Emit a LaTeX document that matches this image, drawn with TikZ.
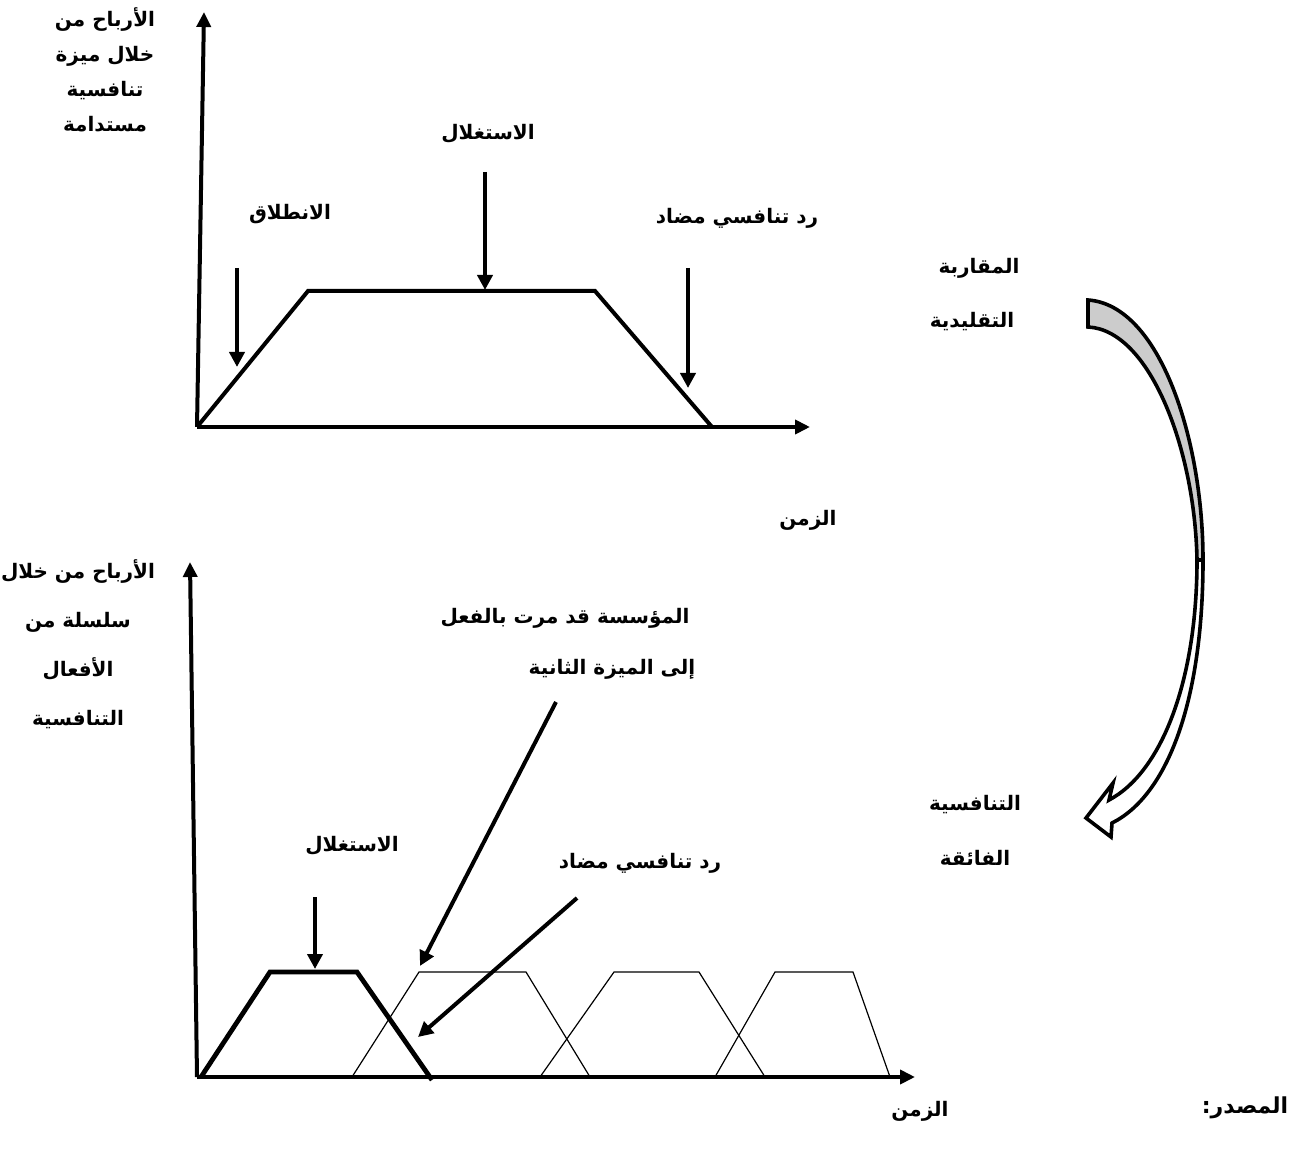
\documentclass[tikz,border=0pt]{standalone}
\usepackage{fontspec}
\usetikzlibrary{arrows.meta}
\TeXXeTstate=1
\newfontfamily\arabicfont[Script=Arabic]{DejaVu Sans}
\newcommand{\AR}[1]{{\arabicfont\bfseries\beginR #1\endR}}
\tikzset{
  axisarrow/.style={line width=2pt, -{Triangle[length=7.5pt,width=7pt]}},
  boldline/.style={line width=2pt, line join=miter},
  thinline/.style={line width=0.6pt},
  pointer/.style={line width=2pt, -{Triangle[length=7.5pt,width=7.5pt]}},
  lbl/.style={font=\fontsize{10}{12}\selectfont, inner sep=0pt, align=center},
}
\begin{document}
\begin{tikzpicture}[x=0.5pt,y=-0.5pt]
\useasboundingbox (0,0) rectangle (1289,1149);
% ---------- top chart ----------
\coordinate (O1) at (197,427);
\coordinate (Y1) at (204,12);
\coordinate (X1) at (810,427);
\coordinate (t1) at (308,291);
\coordinate (t2) at (595,291);
\coordinate (t3) at (712,427);
\draw[axisarrow] (O1) -- (Y1);
\draw[axisarrow] (O1) -- (X1);
\draw[boldline] (O1) -- (t1) -- (t2) -- (t3);
\coordinate (p1s) at (237,268); \coordinate (p1e) at (237,367);
\coordinate (p2s) at (485,172); \coordinate (p2e) at (485,290);
\coordinate (p3s) at (688,268); \coordinate (p3e) at (688,388);
\draw[pointer] (p1s) -- (p1e);
\draw[pointer] (p2s) -- (p2e);
\draw[pointer] (p3s) -- (p3e);
\node[lbl, font=\fontsize{10}{17.5}\selectfont] (ylab1) at (105,70) {\AR{الأرباح من}\\\AR{خلال ميزة}\\\AR{تنافسية}\\\AR{مستدامة}};
\node[lbl] (l1) at (290,214) {\AR{الانطلاق}};
\node[lbl] (l2) at (488,134) {\AR{الاستغلال}};
\node[lbl] (l3) at (737,218) {\AR{رد تنافسي مضاد}};
\node[lbl] (time1) at (808,520) {\AR{الزمن}};
% ---------- right side ----------
\node[lbl] (r1) at (979,268) {\AR{المقاربة}};
\node[lbl] (r2) at (972,322) {\AR{التقليدية}};
\node[lbl] (r3) at (975,805) {\AR{التنافسية}};
\node[lbl] (r4) at (975,858) {\AR{الفائقة}};
% curved arrow
\coordinate (ca1) at (1088,300);
\coordinate (ca2) at (1088,327);
\coordinate (cm1) at (1203,560);
\coordinate (cm2) at (1197,560);
\coordinate (n1) at (1109,800);
\coordinate (n2) at (1112,823);
\coordinate (b1) at (1113,783);
\coordinate (b2) at (1111,837);
\coordinate (tip) at (1086,818);
\draw[line width=1.8pt, line join=miter, fill=white]
  (cm2) .. controls (1197,680) and (1162,772) .. (n1) -- (b1) -- (tip) -- (b2) -- (n2)
  .. controls (1168,795) and (1203,700) .. (cm1) -- cycle;
\draw[line width=1.8pt, line join=miter, fill=black!20]
  (ca1) .. controls (1160,305) and (1203,440) .. (cm1) -- (cm2)
  .. controls (1195,450) and (1150,330) .. (ca2) -- cycle;
% ---------- bottom chart ----------
\coordinate (O2) at (197,1077);
\coordinate (Y2) at (190,562);
\coordinate (X2) at (915,1077);
\draw[axisarrow] (O2) -- (Y2);
\draw[axisarrow] (O2) -- (X2);
\coordinate (a0) at (201,1077); \coordinate (a1) at (270,972);
\coordinate (a2) at (357,972); \coordinate (a3) at (432,1080);
\coordinate (c0) at (352,1077); \coordinate (c1) at (419,972);
\coordinate (c2) at (526,972); \coordinate (c3) at (590,1077);
\coordinate (d0) at (540,1077); \coordinate (d1) at (614,972);
\coordinate (d2) at (699,972); \coordinate (d3) at (765,1077);
\coordinate (e0) at (715,1077); \coordinate (e1) at (775,972);
\coordinate (e2) at (853,972); \coordinate (e3) at (890,1077);
\draw[thinline] (c0) -- (c1) -- (c2) -- (c3);
\draw[thinline] (d0) -- (d1) -- (d2) -- (d3);
\draw[thinline] (e0) -- (e1) -- (e2) -- (e3);
\draw[line width=2.4pt, line join=miter] (a0) -- (a1) -- (a2) -- (a3);
\coordinate (q1s) at (315,897); \coordinate (q1e) at (315,969);
\coordinate (q2s) at (556,702); \coordinate (q2e) at (420,966);
\coordinate (q3s) at (577,898); \coordinate (q3e) at (418,1037);
\draw[pointer] (q1s) -- (q1e);
\draw[pointer] (q2s) -- (q2e);
\draw[pointer] (q3s) -- (q3e);
\node[lbl, font=\fontsize{10}{24.5}\selectfont] (ylab2) at (78,644) {\AR{الأرباح من خلال}\\\AR{سلسلة من}\\\AR{الأفعال}\\\AR{التنافسية}};
\node[lbl] (m1) at (352,846) {\AR{الاستغلال}};
\node[lbl] (m2) at (640,863) {\AR{رد تنافسي مضاد}};
\node[lbl] (m3) at (565,618) {\AR{المؤسسة قد مرت بالفعل}};
\node[lbl] (m4) at (612,669) {\AR{إلى الميزة الثانية}};
\node[lbl] (time2) at (920,1111) {\AR{الزمن}};
\node[lbl, font=\fontsize{11}{13}\selectfont] (src) at (1245,1108) {\AR{المصدر:}};
\end{tikzpicture}
\end{document}
